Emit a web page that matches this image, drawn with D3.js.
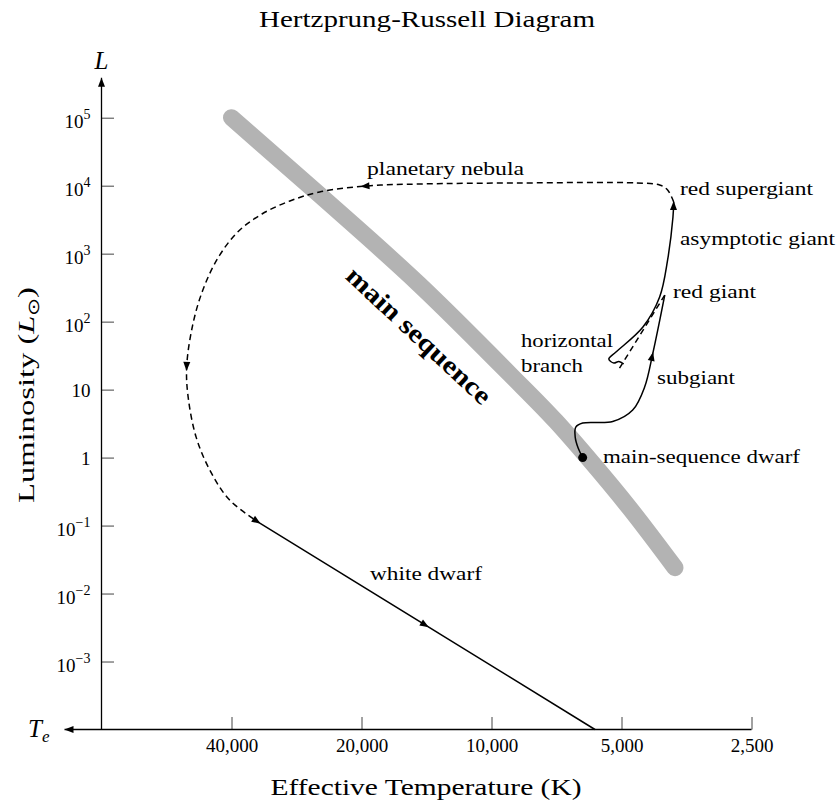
<!DOCTYPE html>
<html>
<head>
<meta charset="utf-8">
<script src="https://cdn.jsdelivr.net/npm/d3@7"></script>
<style>
body { margin: 0; background: #fff; }
text { font-family: "Liberation Serif", serif; fill: #000; }
</style>
</head>
<body>
<svg width="836" height="802"></svg>
<script>
// effective temperature (K) / luminosity (L_sun)

// main sequence band
var mainSeqT = [40000, 25000, 14660, 9070, 7100, 5920, 4790, 3760];
var mainSeqL = [1e5, 7300, 346, 16.9, 3.44, 0.919, 0.181, 0.024];

// the sun-like dwarf
var dwarfStarT = 6150;
var dwarfStarL = 1;

// main sequence -> subgiant -> red giant
var giantT = [6150, 6300, 6400, 6380, 6150, 5240, 4710, 4420, 4230, 3970];
var giantL = [1, 1.38, 2.0, 2.81, 3.22, 3.39, 5.0, 10.9, 34.5, 246];

// red giant tip -> horizontal branch (dashed)
var flashT = [3970, 5100];
var flashL = [246, 18.8];

// horizontal branch -> asymptotic giant -> red supergiant
var agbT = [4940, 5070, 5210, 5350, 5150, 4460, 4080, 3910, 3800, 3785];
var agbL = [23.8, 25.9, 24.6, 28.2, 35.7, 83.3, 230, 807, 3460, 5750];

// planetary nebula loop (dashed)
var nebulaT = [3785, 3910, 4080, 4610, 8600, 14660, 19400, 25000, 29300, 34000, 38700, 43000, 46600, 49200, 50800, 50400, 48300, 44900, 40400, 34400];
var nebulaL = [5750, 8650, 10240, 10960, 10960, 10590, 9900, 8080, 5960, 3830, 2083, 863, 292, 89.1, 21.5, 7.77, 2.0, 0.655, 0.237, 0.1087];

// white dwarf cooling track
var whiteT = [34400, 5760];
var whiteL = [0.1087, 1e-4];

// arrow heads placed along the tracks
var arrowTrack = ["giant", "nebula", "nebula", "white"];
var arrowT = [4230, 20000, 50800, 14000];
var arrowL = [34.5, 9900, 19.4, 0.0033];

// axes
var xTickValues = [40000, 20000, 10000, 5000, 2500];
var xTickLabels = ["40,000", "20,000", "10,000", "5,000", "2,500"];
var yTickValues = [1e5, 1e4, 1e3, 1e2, 10, 1, 0.1, 0.01, 0.001];
var yTickLabels = ["10^5", "10^4", "10^3", "10^2", "10", "1", "10^\u22121", "10^\u22122", "10^\u22123"];

var labelText = ["planetary nebula", "red supergiant", "asymptotic giant", "red giant", "horizontal", "branch", "subgiant", "main-sequence dwarf", "white dwarf"];

// layout of the annotation text (pixels)
var labelX = [367, 680, 680, 673, 521, 521, 657, 603, 370];
var labelY = [175, 195, 245, 298, 347, 372, 384, 463, 580];
var labelW = [157, 133, 155, 83, 92, 62, 78, 197, 112];

var svg = d3.select("svg");

var x = d3.scaleLog().domain([80000, 2500]).range([101.5, 751.5]);
var y = d3.scaleLog().domain([1e-4, 1e5]).range([729.5, 117.7]);

function pts(T, L) {
    return T.map(function(t, i) { return [x(t), y(L[i])]; });
}

var defs = svg.append("defs");
defs.append("marker")
    .attr("id", "axisArrow")
    .attr("viewBox", "-10 -5 10 10")
    .attr("refX", 0).attr("refY", 0)
    .attr("markerWidth", 10).attr("markerHeight", 10)
    .attr("markerUnits", "userSpaceOnUse")
    .attr("orient", "auto")
    .append("path")
    .attr("d", "M0,0L-9,-3.5L-9,3.5Z")
    .attr("fill", "#000");

// Title
svg.append("text")
    .attr("x", 427).attr("y", 27)
    .attr("text-anchor", "middle")
    .attr("font-size", 23)
    .attr("textLength", 336).attr("lengthAdjust", "spacingAndGlyphs")
    .text("Hertzprung-Russell Diagram");

// main sequence band
var curved = d3.line().curve(d3.curveCatmullRom.alpha(0.5));
var smooth = d3.line().curve(d3.curveMonotoneX);
svg.append("path")
    .attr("d", smooth(pts(mainSeqT, mainSeqL)))
    .attr("fill", "none")
    .attr("stroke", "#b3b3b3")
    .attr("stroke-width", 17)
    .attr("stroke-linecap", "round");

svg.append("text")
    .attr("transform", "translate(" + x(14700) + "," + y(63) + ") rotate(43)")
    .attr("text-anchor", "middle")
    .attr("dy", "0.35em")
    .attr("font-size", 26)
    .attr("font-weight", "bold")
    .attr("textLength", 188).attr("lengthAdjust", "spacingAndGlyphs")
    .text("main sequence");

// axes
var yAxis = d3.axisLeft(y)
    .tickValues(yTickValues)
    .tickSizeInner(-12.5).tickSizeOuter(0)
    .tickPadding(11)
    .tickFormat("");
var gy = svg.append("g")
    .attr("transform", "translate(" + x.range()[0] + ",0)")
    .call(yAxis);
gy.select(".domain").remove();
gy.selectAll(".tick line").attr("stroke", "#444");
gy.selectAll(".tick text").each(function(d, i) {
    var t = d3.select(this).attr("font-size", 19);
    var parts = yTickLabels[i].split("^");
    t.append("tspan").text(parts[0]);
    if (parts.length > 1) {
        t.attr("dy", "0.5em");
        t.append("tspan").attr("dy", -9).attr("font-size", 14).text(parts[1]);
    } else {
        t.attr("dy", "0.34em");
    }
});

var xAxis = d3.axisBottom(x)
    .tickValues(xTickValues)
    .tickSizeInner(-12.5).tickSizeOuter(0)
    .tickPadding(9)
    .tickFormat(function(d, i) { return xTickLabels[i]; });
var gx = svg.append("g")
    .attr("transform", "translate(0," + y.range()[0] + ")")
    .call(xAxis);
gx.select(".domain").remove();
gx.selectAll(".tick line").attr("stroke", "#444");
gx.selectAll(".tick text").attr("font-size", 19);

// axis lines with arrows
svg.append("line")
    .attr("x1", x.range()[0]).attr("y1", y.range()[0])
    .attr("x2", x.range()[0]).attr("y2", y.range()[1] - 40)
    .attr("stroke", "#000").attr("stroke-width", 1.3)
    .attr("marker-end", "url(#axisArrow)");
svg.append("line")
    .attr("x1", x.range()[1]).attr("y1", y.range()[0])
    .attr("x2", x.range()[0] - 37).attr("y2", y.range()[0])
    .attr("stroke", "#000").attr("stroke-width", 1.3)
    .attr("marker-end", "url(#axisArrow)");

svg.append("text")
    .attr("x", x.range()[0]).attr("y", 69)
    .attr("text-anchor", "middle")
    .attr("font-size", 25).attr("font-style", "italic")
    .text("L");

var te = svg.append("text")
    .attr("x", 28).attr("y", 737)
    .attr("font-size", 25).attr("font-style", "italic");
te.append("tspan").text("T");
te.append("tspan").attr("dy", 5).attr("font-size", 17).text("e");

// axis titles
svg.append("text")
    .attr("x", 426).attr("y", 795)
    .attr("text-anchor", "middle")
    .attr("font-size", 24)
    .attr("textLength", 311).attr("lengthAdjust", "spacingAndGlyphs")
    .text("Effective Temperature (K)");

var ylab = svg.append("text")
    .attr("transform", "translate(34,395) rotate(-90)")
    .attr("text-anchor", "middle")
    .attr("font-size", 24)
    .attr("textLength", 216).attr("lengthAdjust", "spacingAndGlyphs");
ylab.append("tspan").text("Luminosity (");
ylab.append("tspan").attr("font-style", "italic").text("L");
ylab.append("tspan").attr("dy", 5).attr("font-size", 16).text("\u2299");
ylab.append("tspan").attr("dy", -5).text(")");

// evolutionary tracks
var tracks = {};
function drawTrack(name, T, L, dashed, endArrow) {
    var p = svg.append("path")
        .attr("d", curved(pts(T, L)))
        .attr("fill", "none")
        .attr("stroke", "#000")
        .attr("stroke-width", 1.5)
        .attr("stroke-dasharray", dashed ? "6,4" : null);
    tracks[name] = p.node();
    if (endArrow) {
        var n = p.node(), len = n.getTotalLength();
        addArrow(n, len);
    }
}

function addArrow(node, len) {
    var total = node.getTotalLength();
    var a = node.getPointAtLength(Math.max(0, len - 2));
    var b = node.getPointAtLength(Math.min(total, len + 2));
    if (len >= total) { a = node.getPointAtLength(total - 3); b = node.getPointAtLength(total); }
    var tip = node.getPointAtLength(len);
    var ang = Math.atan2(b.y - a.y, b.x - a.x) * 180 / Math.PI;
    svg.append("path")
        .attr("d", "M1,0L-8,-3.5L-8,3.5Z")
        .attr("fill", "#000")
        .attr("transform", "translate(" + tip.x + "," + tip.y + ") rotate(" + ang + ")");
}

function arrowNear(node, px, py) {
    var total = node.getTotalLength(), best = 0, bestD = Infinity;
    for (var l = 0; l <= total; l += 0.5) {
        var p = node.getPointAtLength(l);
        var d = (p.x - px) * (p.x - px) + (p.y - py) * (p.y - py);
        if (d < bestD) { bestD = d; best = l; }
    }
    addArrow(node, best);
}

drawTrack("giant", giantT, giantL, false, false);
drawTrack("flash", flashT, flashL, true, false);
drawTrack("agb", agbT, agbL, false, true);
drawTrack("nebula", nebulaT, nebulaL, true, true);
drawTrack("white", whiteT, whiteL, false, false);

arrowTrack.forEach(function(name, i) {
    arrowNear(tracks[name], x(arrowT[i]), y(arrowL[i]));
});

svg.append("circle")
    .attr("cx", x(dwarfStarT)).attr("cy", y(dwarfStarL))
    .attr("r", 4.5)
    .attr("fill", "#000");

// annotations
svg.selectAll(".label")
    .data(labelText)
    .enter()
    .append("text")
    .attr("class", "label")
    .attr("x", function(d, i) { return labelX[i]; })
    .attr("y", function(d, i) { return labelY[i]; })
    .attr("font-size", 19)
    .attr("textLength", function(d, i) { return labelW[i]; })
    .attr("lengthAdjust", "spacingAndGlyphs")
    .text(function(d) { return d; });
</script>
</body>
</html>
